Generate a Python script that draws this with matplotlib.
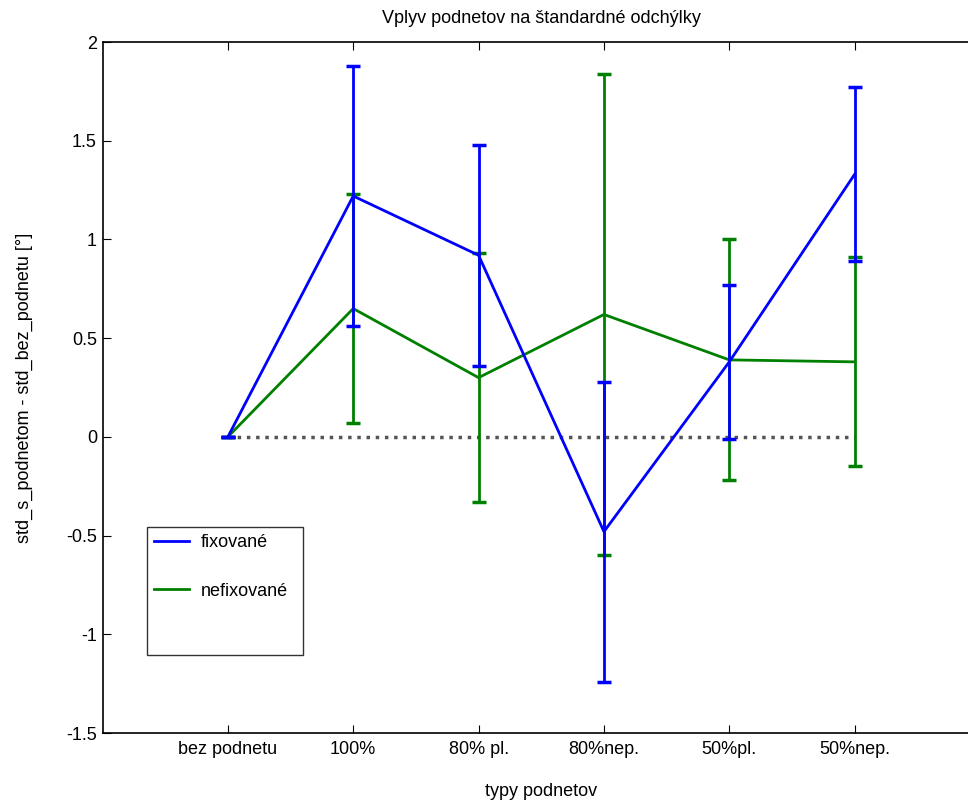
import matplotlib
matplotlib.use('Agg')
import matplotlib.pyplot as plt
from matplotlib.lines import Line2D

plt.rcParams['font.family'] = ['Liberation Sans', 'DejaVu Sans']
plt.rcParams['axes.unicode_minus'] = False

categories = ['bez podnetu', '100%', '80% pl.', '80%nep.', '50%pl.', '50%nep.']
x_pos = [1, 2, 3, 4, 5, 6]

fix_mean = [0.0, 1.22, 0.92, -0.48, 0.38, 1.33]
fix_err = [0.0, 0.66, 0.56, 0.76, 0.39, 0.44]

nefix_mean = [0.0, 0.65, 0.30, 0.62, 0.39, 0.38]
nefix_err = [0.0, 0.58, 0.63, 1.22, 0.61, 0.53]

zero_line = [0, 0, 0, 0, 0, 0]

fig = plt.figure(figsize=(9.68, 8.02), dpi=100)
ax = fig.add_axes([0.1059, 0.086, 0.9065, 0.8616])

ax.plot(x_pos, zero_line, linestyle=':', color='#555555', linewidth=2.5, zorder=1)

ax.errorbar(x_pos, fix_mean, yerr=fix_err, color='#0000ff', linewidth=2,
            capsize=4.7, capthick=2.5, elinewidth=2, zorder=3)
ax.errorbar(x_pos, nefix_mean, yerr=nefix_err, color='#008000', linewidth=2,
            capsize=4.7, capthick=2.5, elinewidth=2, zorder=2)

ax.set_xlim(0, 7)
ax.set_ylim(-1.5, 2)
ax.set_xticks(x_pos)
ax.set_xticklabels(categories)
ax.set_yticks([-1.5, -1, -0.5, 0, 0.5, 1, 1.5, 2])
ax.set_yticklabels(['-1.5', '-1', '-0.5', '0', '0.5', '1', '1.5', '2'])
ax.tick_params(direction='in', top=True, right=False, labelsize=13, length=6)
ax.tick_params(axis='x', pad=6)
ax.tick_params(axis='y', pad=4)
for s in ax.spines.values():
    s.set_linewidth(1.2)

ax.set_title('Vplyv podnetov na štandardné odchýlky', fontsize=13, pad=14)
ax.set_xlabel('typy podnetov', fontsize=13, labelpad=18)
ax.set_ylabel('std_s_podnetom - std_bez_podnetu [°]', fontsize=13, labelpad=24)

# third empty entry keeps the tall, wide empty box like in the original
handles = [Line2D([], [], color='#0000ff', linewidth=2),
           Line2D([], [], color='#008000', linewidth=2),
           Line2D([], [], color='none')]
leg = ax.legend(handles, ['fixované', 'nefixované', ' ' * 19], loc='upper left',
                bbox_to_anchor=(0.0507, 0.298), fontsize=13, frameon=True,
                fancybox=False, edgecolor='black', labelspacing=1.74,
                handlelength=1.9, handletextpad=0.66, borderpad=0.4,
                borderaxespad=0)
leg.get_frame().set_linewidth(1)

fig.savefig('out.png', dpi=100)
